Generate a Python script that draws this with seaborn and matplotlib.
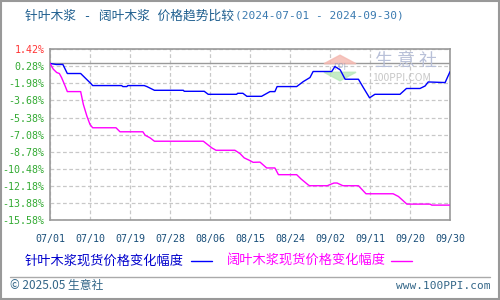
import matplotlib
matplotlib.use("Agg")
import matplotlib.pyplot as plt
import seaborn as sns
import pandas as pd
from matplotlib.lines import Line2D
from matplotlib.patches import Rectangle, Polygon

sns.set_style("white")
plt.rcParams['font.family'] = ['Noto Sans CJK SC', 'DejaVu Sans']

title_cn = "针叶木浆 - 阔叶木浆 价格趋势比较"
title_date = "(2024-07-01 - 2024-09-30)"
series_names = ["针叶木浆现货价格变化幅度", "阔叶木浆现货价格变化幅度"]
x_tick_labels = ["07/01", "07/10", "07/19", "07/28", "08/06", "08/15",
                 "08/24", "09/02", "09/11", "09/20", "09/30"]
y_tick_values = [1.42, -0.28, -1.98, -3.68, -5.38, -7.08, -8.78,
                 -10.48, -12.18, -13.88, -15.58]
y_tick_labels = ["1.42%", "0.28%", "-1.98%", "-3.68%", "-5.38%", "-7.08%",
                 "-8.78%", "-10.48%", "-12.18%", "-13.88%", "-15.58%"]

# softwood (blue): day offset, change %
soft_day = [0, 1.4, 2.9, 3.9, 6.9, 9.2, 9.6, 16.1, 16.4, 17.3, 17.5, 21.2,
            21.8, 23.5, 30.0, 30.2, 34.7, 35.6, 42.0, 42.2, 43.4, 44.3, 47.6,
            49.5, 50.6, 51.1, 55.5, 57.0, 58.5, 59.2, 63.4, 64.1, 65.3, 66.4,
            69.4, 70.5, 71.9, 73.1, 78.75, 80.2, 83.25, 84.4, 85.1, 88.9, 90]
soft_val = [0, -0.1, -0.1, -1.0, -1.0, -2.0, -2.2, -2.2, -2.3, -2.3, -2.2, -2.2,
            -2.3, -2.67, -2.67, -2.77, -2.77, -3.07, -3.07, -2.97, -2.97, -3.27, -3.27,
            -2.8, -2.8, -2.3, -2.3, -1.8, -1.4, -0.8, -0.8, -0.3, -0.64, -1.57,
            -1.57, -2.4, -3.42, -3.07, -3.07, -2.49, -2.49, -2.24, -1.84, -1.9, -0.82]

# hardwood (magenta): day offset, change %
hard_day = [0, 0.75, 1.5, 2.1, 2.6, 3.4, 3.9, 6.9, 7.5, 8.3, 9.0, 9.6, 14.85,
            15.75, 20.9, 21.4, 22.5, 23.5, 34.5, 35.25, 36.4, 37.35, 41.6, 42.75,
            43.7, 45.0, 45.7, 47.25, 48.75, 50.6, 51.4, 55.5, 56.5, 58.05, 58.4,
            62.4, 63.3, 63.9, 64.6, 65.9, 69.4, 71.1, 77.2, 78.4, 80.3, 85.5, 85.9, 90]
hard_val = [0, -0.57, -0.9, -1.0, -1.4, -2.24, -2.8, -2.8, -4.07, -5.24, -6.07, -6.4, -6.4,
            -6.8, -6.8, -7.14, -7.4, -7.74, -7.74, -8.0, -8.4, -8.64, -8.64, -8.97,
            -9.4, -9.67, -9.84, -9.82, -10.4, -10.4, -11.07, -11.07, -11.5, -12.07, -12.17,
            -12.17, -12.0, -11.9, -11.9, -12.17, -12.17, -12.97, -12.97, -13.24, -14.0, -14.0, -14.1, -14.1]

BLUE = "#0000ff"
MAGENTA = "#ff00ff"

fig = plt.figure(figsize=(5, 3), dpi=100)
ax = fig.add_axes([0.1, 0.2667, 0.8, 0.5693])

df_soft = pd.DataFrame({"day": soft_day, "val": soft_val})
df_hard = pd.DataFrame({"day": hard_day, "val": hard_val})

ax.axhline(0, color="#999999", lw=1.0, zorder=1)
sns.lineplot(data=df_soft, x="day", y="val", ax=ax, color=BLUE, lw=1.0,
             estimator=None, sort=False, zorder=3)
sns.lineplot(data=df_hard, x="day", y="val", ax=ax, color=MAGENTA, lw=1.0,
             estimator=None, sort=False, zorder=3)

ax.set_xlim(0, 90)
ax.set_ylim(-15.58, 1.42)
ax.set_xticks(list(range(0, 91, 9)))
ax.set_xticklabels(x_tick_labels, family="DejaVu Sans Mono", fontsize=7.2, color="#1a4f7a")
ax.set_yticks(y_tick_values)
ax.set_yticklabels(y_tick_labels, family="DejaVu Sans Mono", fontsize=7.2, color="#33aa33")
ax.get_yticklabels()[0].set_color("#ff3333")
ax.tick_params(axis="both", length=0)
ax.tick_params(axis="x", pad=10)
ax.tick_params(axis="y", pad=4)
ax.set_xlabel("")
ax.set_ylabel("")
ax.grid(True, color="#c8c8c8", ls=(0, (3, 2)), lw=0.9)
for s in ax.spines.values():
    s.set_color("#999999")
    s.set_linewidth(1.2)

# watermark
ax.add_patch(Polygon([[0.725, 0.965], [0.765, 0.915], [0.685, 0.915]], closed=True,
                     transform=ax.transAxes, color="#f4b8b0", alpha=0.8, zorder=2))
ax.add_patch(Polygon([[0.685, 0.865], [0.765, 0.865], [0.725, 0.815]], closed=True,
                     transform=ax.transAxes, color="#b8e8b8", alpha=0.8, zorder=2))
ax.text(0.725, 0.89, "PPI", transform=ax.transAxes, fontsize=6, color="#8899bb",
        ha="center", va="center", alpha=0.6, zorder=2)
ax.text(0.89, 0.93, "生 意 社", transform=ax.transAxes, fontsize=13, color="#b8c0d8",
        ha="center", va="center", zorder=2)
ax.text(0.88, 0.83, "100PPI.COM", transform=ax.transAxes, fontsize=7.5, color="#c8c8c8",
        ha="center", va="center", zorder=2)

# title
t1 = fig.text(0.05, 1 - 16 / 300, title_cn, fontsize=9.2, color="#1f5f8f", va="center",
              ha="left", family=["DejaVu Sans Mono", "Noto Sans CJK SC"])
fig.canvas.draw()
bb = t1.get_window_extent()
fig.text(bb.x1 / fig.bbox.width + 0.002, 1 - 16 / 300, title_date, fontsize=8,
         color="#3a7ab0", va="center", ha="left", family="DejaVu Sans Mono")

# legend
ly = 1 - 261 / 300
fig.text(0.05, ly, series_names[0], fontsize=9.5, color="#0000cc", va="center", ha="left")
fig.add_artist(Line2D([191 / 500, 212 / 500], [ly, ly], color=BLUE, lw=1.0))
fig.text(227 / 500, ly, series_names[1], fontsize=9.5, color=MAGENTA, va="center", ha="left")
fig.add_artist(Line2D([391 / 500, 412 / 500], [ly, ly], color=MAGENTA, lw=1.0))

# separator and footer
sy = 1 - 277 / 300
fig.add_artist(Line2D([10 / 500, 490 / 500], [sy, sy], color="#aaaaaa", lw=1.0))
fy = 1 - 286 / 300
fig.text(10 / 500, fy, "© 2025.05 生意社", fontsize=8.5, color="#336688", va="center", ha="left")
fig.text(490 / 500, fy, "www.100PPI.com", fontsize=8, color="#336688", va="center",
         ha="right", family="DejaVu Sans Mono")

# outer border
fig.add_artist(Rectangle((0.001, 0.002), 0.997, 0.996, transform=fig.transFigure,
                         fill=False, edgecolor="#999999", lw=1.5))

fig.savefig("out.png", dpi=100)
